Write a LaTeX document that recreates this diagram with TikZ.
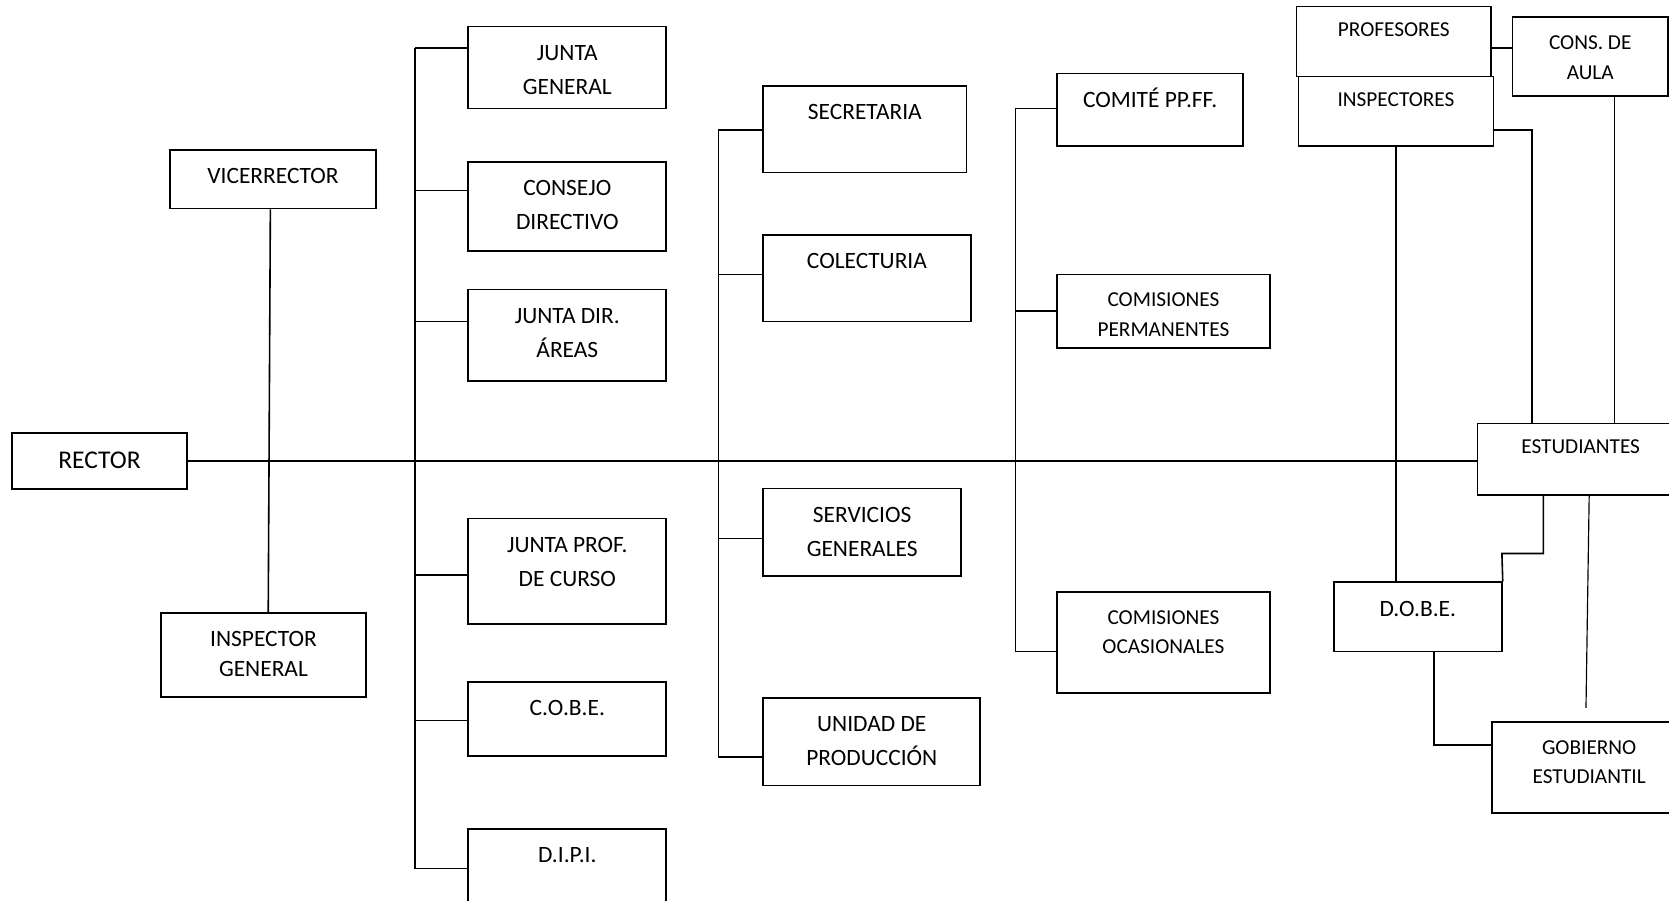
\documentclass[tikz,border=0pt]{standalone}
\usepackage{fontspec}
\setmainfont{Carlito}

\newcommand{\fnormal}{\fontsize{22}{32}\selectfont}
\newcommand{\fchico}{\fontsize{20}{28}\selectfont}
\newcommand{\fgrande}{\fontsize{24}{30}\selectfont}

\tikzset{
  caja/.style={draw, line width=1.6pt, inner sep=0pt},
  rotulo/.style={anchor=north, inner sep=0pt, align=center, font=\fnormal, yshift=-9.5pt, execute at begin node=\strut},
  chico/.style={rotulo, font=\fchico},
  dos/.style={yshift=-8.5pt},
  linea/.style={line width=1.5pt},
  fina/.style={line width=1.1pt},
}

\begin{document}
\begin{tikzpicture}[x=1pt,y=-1pt]
\useasboundingbox (0,0) rectangle (1568,846);
\fill[white] (0,0) rectangle (1568,846);
\clip (0,0) rectangle (1568,846);

\node[caja, minimum width=165pt, minimum height=53pt, label={[rotulo, font=\fgrande, yshift=-3.5pt]90:RECTOR}] (rector) at (93.5,433) {};
\node[caja, minimum width=193pt, minimum height=55pt, label={[rotulo]90:VICERRECTOR}] (vice) at (256.5,168.5) {};
\node[caja, minimum width=193pt, minimum height=79pt, label={[rotulo, dos, font=\fontsize{22}{28}\selectfont]90:INSPECTOR\\GENERAL}] (insp) at (247.5,615.5) {};

\node[caja, minimum width=186pt, minimum height=77pt, label={[rotulo, dos]90:JUNTA\\GENERAL}] (jgen) at (533,63.5) {};
\node[caja, minimum width=186pt, minimum height=84pt, label={[rotulo, dos]90:CONSEJO\\DIRECTIVO}] (cdir) at (533,194) {};
\node[caja, minimum width=186pt, minimum height=86pt, label={[rotulo, dos]90:JUNTA DIR.\\ÁREAS}] (jdir) at (533,315) {};
\node[caja, minimum width=186pt, minimum height=99pt, label={[rotulo, dos]90:JUNTA PROF.\\DE CURSO}] (jprof) at (533,536.5) {};
\node[caja, minimum width=186pt, minimum height=69pt, label={[rotulo]90:C.O.B.E.}] (cobe) at (533,675.5) {};
\node[caja, minimum width=186pt, minimum height=101pt, label={[rotulo]90:D.I.P.I.}] (dipi) at (533,829.5) {};

\node[caja, minimum width=191pt, minimum height=81pt, label={[rotulo]90:SECRETARIA}] (secr) at (812.5,121.5) {};
\node[caja, minimum width=195pt, minimum height=81pt, label={[rotulo]90:COLECTURIA}] (cole) at (814.5,261.5) {};
\node[caja, minimum width=186pt, minimum height=82pt, label={[rotulo, dos]90:SERVICIOS\\GENERALES}] (serv) at (810,500) {};
\node[caja, minimum width=204pt, minimum height=82pt, label={[rotulo, dos]90:UNIDAD DE\\PRODUCCIÓN}] (unid) at (819,697) {};

\node[caja, minimum width=175pt, minimum height=68pt, label={[rotulo, yshift=-1pt]90:COMITÉ PP.FF.}] (comi) at (1080.5,103) {};
\node[caja, minimum width=200pt, minimum height=69pt, label={[chico, dos]90:COMISIONES\\PERMANENTES}] (cper) at (1093,292.5) {};
\node[caja, minimum width=200pt, minimum height=95pt, label={[chico, dos]90:COMISIONES\\OCASIONALES}] (coca) at (1093,603.5) {};

\node[caja, minimum width=183pt, minimum height=66pt, label={[chico]90:PROFESORES}] (prof) at (1309.5,39) {};
\node[caja, minimum width=183pt, minimum height=65pt, label={[chico]90:INSPECTORES}] (insps) at (1311.5,104.5) {};
\node[caja, minimum width=146pt, minimum height=74pt, label={[chico, dos]90:CONS. DE\\AULA}] (cons) at (1494,53) {};
\node[caja, minimum width=194pt, minimum height=67pt, label={[chico]90:ESTUDIANTES}] (estu) at (1485,431.5) {};
\node[caja, minimum width=158pt, minimum height=65pt, label={[rotulo, yshift=-1pt]90:D.O.B.E.}] (dobe) at (1332,579.5) {};
\node[caja, minimum width=182pt, minimum height=86pt, label={[chico, dos]90:GOBIERNO\\ESTUDIANTIL}] (gob) at (1493,721) {};

\draw[linea] (rector.east) -- (rector.east -| estu.west);
\draw[linea] ([xshift=-2.5pt]vice.south) -- ([xshift=4.5pt]insp.north);

\coordinate (t1a) at (390,45);
\coordinate (t1b) at (390,816);
\draw[linea] (t1a) -- (t1b);
\draw[linea] (t1a) -- (t1a -| jgen.west);
\draw[linea] (390,179) -- (cdir.west |- 390,179);
\draw[linea] (390,302) -- (jdir.west |- 390,302);
\draw[linea] (390,540) -- (jprof.west |- 390,540);
\draw[linea] (390,677) -- (cobe.west |- 390,677);
\draw[linea] (t1b) -- (t1b -| dipi.west);

\coordinate (t2a) at (675,122);
\coordinate (t2b) at (675,711);
\draw[linea] (t2a) -- (t2b);
\draw[linea] (t2a) -- (t2a -| secr.west);
\draw[linea] (675,258) -- (cole.west |- 675,258);
\draw[linea] (675,506) -- (serv.west |- 675,506);
\draw[linea] (t2b) -- (t2b -| unid.west);

\coordinate (t3a) at (954,102);
\coordinate (t3b) at (954,612);
\draw[linea] (t3a) -- (t3b);
\draw[linea] (t3a) -- (t3a -| comi.west);
\draw[linea] (954,292) -- (cper.west |- 954,292);
\draw[linea] (t3b) -- (t3b -| coca.west);

\draw[linea] (prof.east |- 0,45) -- (cons.west |- 0,45);
\draw[linea] (insps.east |- 0,122) -| (1439,0 |- estu.north);
\draw[fina] (1517,0 |- cons.south) -- (1517,0 |- estu.north);
\draw[fina] (insps.south) -- (insps.south |- dobe.north);
\draw[linea] ([xshift=-35pt]estu.south) |- (1411,520) -- (dobe.north east);
\coordinate (gfin) at (1490,665);
\draw[fina] ([xshift=8pt]estu.south) -- (gfin);
\draw[linea] ([xshift=15pt]dobe.south) |- (gob.west |- 0,700);
\end{tikzpicture}
\end{document}
